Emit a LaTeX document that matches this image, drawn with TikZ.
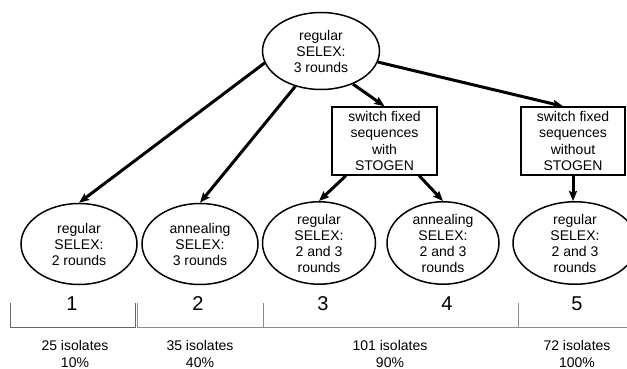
\documentclass[tikz,border=0pt]{standalone}
\usepackage{fontspec}
\setmainfont{Liberation Sans}
\usetikzlibrary{positioning,arrows.meta,shapes.geometric}

\begin{document}
\begin{tikzpicture}[x=1pt,y=-1pt,
  oval/.style={draw,ellipse,line width=1.5pt,inner sep=0pt,minimum width=116pt,minimum height=81pt,align=center,font=\fontsize{14}{16}\selectfont},
  box/.style={draw,rectangle,line width=1.5pt,inner sep=0pt,minimum width=105pt,minimum height=68pt,align=center,font=\fontsize{14}{16.5}\selectfont},
  flow/.style={-{Stealth[length=10pt,width=8pt,inset=1.5pt]},line width=3pt},
  num/.style={font=\fontsize{20}{20}\selectfont},
  count/.style={align=center,font=\fontsize{14}{16.5}\selectfont},
  brace/.style={draw=black!45,line width=0.8pt}]
\useasboundingbox (0,0) rectangle (627,369);
\node[oval,minimum width=117pt,minimum height=77pt] (top) at (321,51) {regular\\SELEX:\\3 rounds};
\node[box] (with) at (384.5,141) {switch fixed\\sequences\\with\\STOGEN};
\node[box,minimum width=104pt] (without) at (573,141) {switch fixed\\sequences\\without\\STOGEN};
\node[oval] (reg2) at (79,244) {regular\\SELEX:\\2 rounds};
\node[oval] (ann3) at (200,244) {annealing\\SELEX:\\3 rounds};
\node[oval,minimum width=113pt] (regwith) at (319,243) {regular\\SELEX:\\2 and 3\\rounds};
\node[oval,minimum width=112pt] (annwith) at (443,243) {annealing\\SELEX:\\2 and 3\\rounds};
\node[oval,minimum width=124pt] (regwithout) at (575,243) {regular\\SELEX:\\2 and 3\\rounds};
\draw[flow] (top.192)--(reg2.north);
\draw[flow] (top.234)--(ann3.north);
\draw[flow] (top.314)--(with.north);
\draw[flow] (top.349)--(without.106);
\draw[flow] (with.222)--(regwith.north);
\draw[flow] (with.315)--(annwith.north);
\draw[flow] (without.south)--(without.south|-regwithout.north);
\node[num] (n1) at (72,304) {1};
\node[num] (n2) at (198,304) {2};
\node[num] (n3) at (323,304) {3};
\node[num] (n4) at (447,304) {4};
\node[num] (n5) at (577,304) {5};
\draw[brace,draw=black!60] (10,303)--(10,327)--(135,327)--(135,303);
\draw[brace] (137,303)--(137,327)--(627,327);
\draw[brace] (263,303)--(263,327);
\draw[brace] (518,303)--(518,327);
\node[count] (c1) at (75,354) {25 isolates\\10\%};
\node[count] (c2) at (200,354) {35 isolates\\40\%};
\node[count] (c3) at (390,354) {101 isolates\\90\%};
\node[count] (c4) at (577,354) {72 isolates\\100\%};
\end{tikzpicture}
\end{document}
